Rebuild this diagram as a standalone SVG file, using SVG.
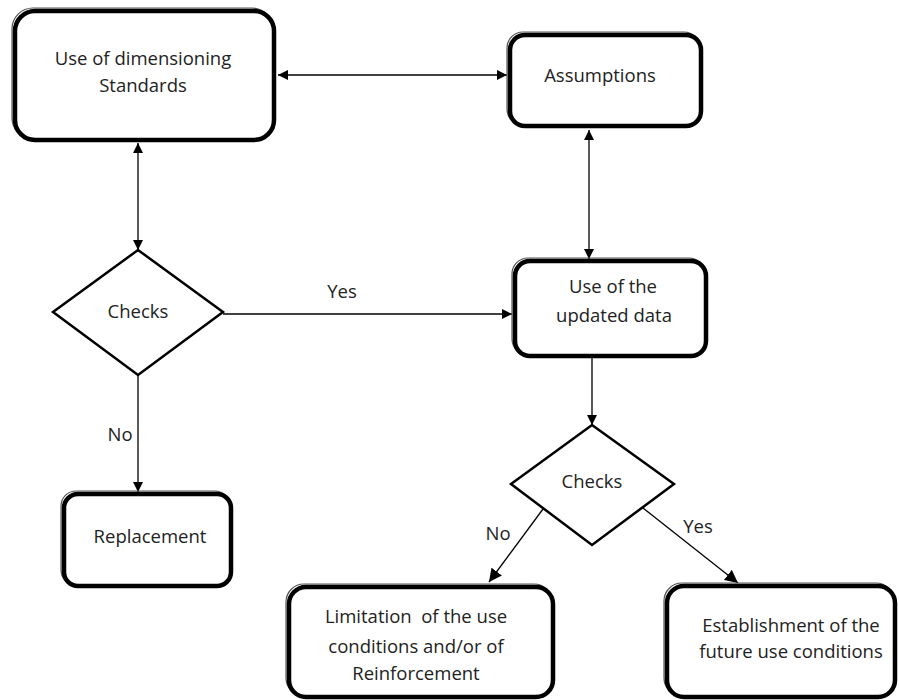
<svg xmlns="http://www.w3.org/2000/svg" width="899" height="700" viewBox="0 0 899 700">
<defs>
<marker id="ah" viewBox="0 0 10 10" refX="10" refY="5" markerWidth="10" markerHeight="10" markerUnits="userSpaceOnUse" orient="auto-start-reverse">
<path d="M0,0 L10,5 L0,10 z" fill="#000"/>
</marker>
<marker id="ahb" viewBox="0 0 12 12" refX="12" refY="6" markerWidth="13" markerHeight="13" markerUnits="userSpaceOnUse" orient="auto-start-reverse">
<path d="M0,0 L12,6 L0,12 z" fill="#000"/>
</marker>
</defs>
<style>
.box{fill:#fff;stroke:#000;stroke-width:4.5}
.ghost{fill:none;stroke:#555;stroke-width:1.2}
.dia{fill:#fff;stroke:#000;stroke-width:2.5}
.t{font-family:"Open Sans","Liberation Sans",sans-serif;font-size:18.5px;fill:#222;text-anchor:middle}
.c{fill:none;stroke:#000;stroke-width:1.3}
</style>
<rect width="899" height="700" fill="#fff"/>
<g id="connectors">
<line class="c" x1="278" y1="75" x2="507" y2="75" marker-start="url(#ah)" marker-end="url(#ah)"/>
<line class="c" x1="138" y1="143" x2="138" y2="250" marker-start="url(#ah)" marker-end="url(#ah)"/>
<line class="c" x1="589" y1="130" x2="589" y2="259" marker-start="url(#ah)" marker-end="url(#ah)"/>
<line class="c" x1="223" y1="314" x2="512" y2="314" marker-end="url(#ah)"/>
<line class="c" x1="138" y1="375" x2="138" y2="492" marker-end="url(#ah)"/>
<line class="c" x1="592" y1="358" x2="592" y2="425" marker-end="url(#ah)"/>
<line class="c" x1="543" y1="509" x2="489" y2="582" marker-end="url(#ahb)"/>
<line class="c" x1="643" y1="508" x2="738" y2="583" marker-end="url(#ahb)"/>
<text class="t" x="342" y="298">Yes</text>
<text class="t" x="120" y="441">No</text>
<text class="t" x="498" y="540">No</text>
<text class="t" x="698" y="533">Yes</text>
</g>
<g id="n1">
<rect class="ghost" x="12" y="8" width="261" height="131" rx="21"/>
<rect class="box" x="15" y="11" width="259" height="129" rx="20"/>
<text class="t" x="143" y="65">Use of dimensioning</text>
<text class="t" x="143" y="92">Standards</text>
</g>
<g id="n2">
<rect class="ghost" x="507" y="32" width="193" height="93" rx="16"/>
<rect class="box" x="510" y="35" width="191" height="91" rx="15"/>
<text class="t" x="600" y="82">Assumptions</text>
</g>
<g id="n3">
<rect class="ghost" x="512" y="258" width="193" height="97" rx="16"/>
<rect class="box" x="515" y="261" width="191" height="95" rx="15"/>
<text class="t" x="613" y="293">Use of the</text>
<text class="t" x="614" y="322">updated data</text>
</g>
<g id="d1">
<polygon class="dia" points="138,250 223,312 138,375 53,312"/>
<text class="t" x="138" y="318">Checks</text>
</g>
<g id="n4">
<rect class="ghost" x="61" y="491" width="169" height="94" rx="15"/>
<rect class="box" x="64" y="494" width="167" height="92" rx="14"/>
<text class="t" x="150" y="543">Replacement</text>
</g>
<g id="d2">
<polygon class="dia" points="592,425 674,484 592,545 511,484"/>
<text class="t" x="592" y="488">Checks</text>
</g>
<g id="n5">
<rect class="ghost" x="286" y="584" width="266" height="112" rx="18"/>
<rect class="box" x="289" y="587" width="264" height="110" rx="17"/>
<text class="t" x="416" y="623" xml:space="preserve">Limitation&#160; of the use</text>
<text class="t" x="416" y="653">conditions and/or of</text>
<text class="t" x="416" y="680">Reinforcement</text>
</g>
<g id="n6">
<rect class="ghost" x="664" y="583" width="230" height="113" rx="18"/>
<rect class="box" x="667" y="586" width="228" height="111" rx="17"/>
<text class="t" x="791" y="632">Establishment of the</text>
<text class="t" x="791" y="658">future use conditions</text>
</g>
</svg>
